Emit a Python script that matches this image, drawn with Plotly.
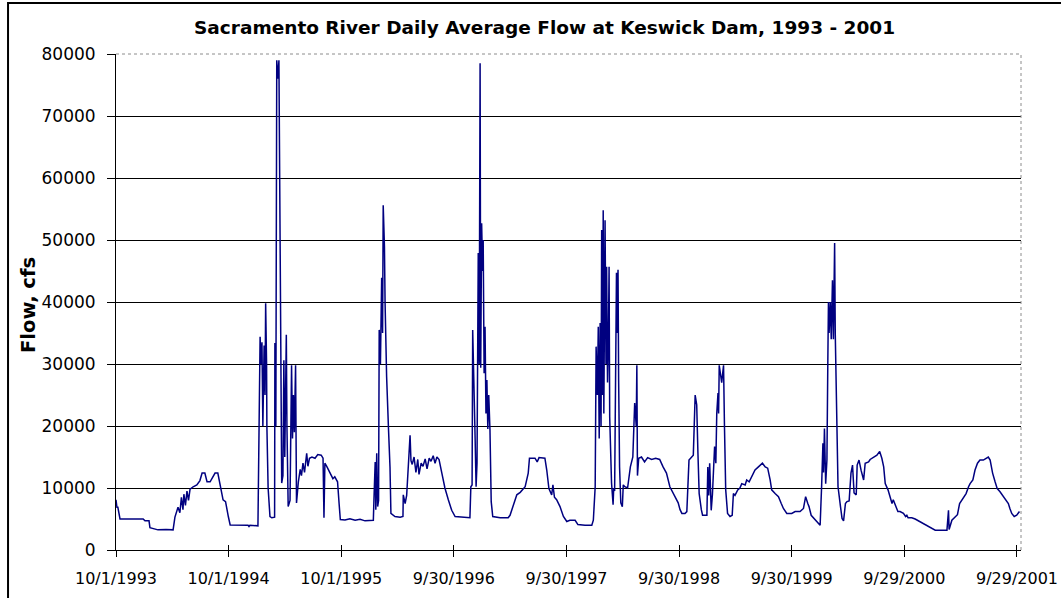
import pandas as pd
import plotly.graph_objects as go

start = pd.Timestamp("1993-10-01")

# flow in cfs, x given as days since 10/1/1993, one pair of lists per water year
wy1994_day = [0, 3, 6, 13, 55, 88, 94, 107, 110, 136, 162, 185, 191, 201, 207, 212, 217, 220, 225, 230,
              235, 240, 250, 262, 272, 279, 288, 295, 305, 314, 321, 330, 334, 340, 347, 355, 360, 364]
wy1994_cfs = [8100, 6900, 6900, 5000, 5000, 5000, 4700, 4700, 3600, 3250, 3300, 3250, 5300, 6900, 6000, 8500,
              6500, 9000, 7200, 9500, 8000, 9800, 10200, 10500, 11200, 12400, 12400, 11000, 11000, 11800,
              12400, 12400, 11500, 9700, 8100, 7800, 6000, 5400]

wy1995_day = [370, 402, 428, 431, 434, 460, 461, 463, 467, 470, 473, 476, 480, 483, 485, 488, 489, 493, 496,
              499, 505, 514, 515, 518, 521, 525, 528, 531, 537, 541, 544, 547, 552, 554, 558, 564, 569, 572,
              575, 578, 582, 585, 591, 597, 601, 606, 611, 618, 622, 627, 635, 645, 654, 665, 671, 674, 677,
              683, 690, 697, 703, 709, 718, 723, 727]
wy1995_cfs = [4050, 4000, 4000, 3800, 4000, 3900, 10500, 10500, 34400, 30000, 33500, 20000, 33000, 25000,
              39800, 30000, 20000, 10000, 8000, 5400, 5200, 5300, 33400, 20000, 79000, 76000, 79000, 50000,
              10800, 12000, 30600, 15000, 34700, 20000, 7000, 8000, 29800, 18000, 25000, 19000, 29800, 7600,
              11000, 13000, 12000, 14000, 12500, 15600, 13500, 14800, 15000, 14800, 15400, 15300, 14800, 5200,
              14000, 13500, 12800, 12000, 11500, 11800, 11000, 7500, 4900]

wy1996_day = [742, 758, 775, 791, 807, 823, 834, 836, 840, 842, 845, 848, 851, 853, 857, 861, 864, 866, 870,
              872, 874, 877, 883, 888, 891, 904, 921, 930, 931, 937, 942, 948, 953, 956, 960, 966, 972, 978,
              982, 989, 995, 1002, 1008, 1015, 1021, 1028, 1034, 1040, 1047, 1056, 1066, 1077, 1088]
wy1996_cfs = [4850, 5050, 4800, 4950, 4700, 4800, 4800, 8100, 14200, 6500, 15600, 7000, 8000, 35500, 30000,
              43900, 35000, 55600, 48900, 40000, 32800, 28000, 19700, 13400, 5900, 5400, 5300, 5400, 8900,
              7500, 8800, 14200, 18500, 14400, 13800, 15000, 12500, 14600, 12200, 14000, 13500, 14700, 13100,
              14800, 14300, 15200, 14000, 15000, 14600, 12400, 10000, 8100, 6400]

wy1997_day = [1099, 1115, 1131, 1147, 1150, 1154, 1156, 1159, 1164, 1167, 1170, 1174, 1177, 1180, 1182, 1185,
              1188, 1190, 1193, 1196, 1199, 1202, 1205, 1208, 1212, 1216, 1221, 1245, 1271, 1277, 1288, 1299,
              1310, 1316, 1326, 1336, 1340, 1358, 1365, 1371, 1390, 1396, 1403, 1412, 1416, 1421, 1428, 1439,
              1450]
wy1997_cfs = [5400, 5300, 5200, 5200, 10200, 10500, 35500, 30200, 17700, 10200, 14000, 47900, 30000, 78500,
              29400, 52700, 45000, 50000, 28500, 36000, 22000, 27400, 19500, 25000, 19400, 7800, 5400, 5200,
              5200, 5600, 7300, 8900, 9300, 9700, 10200, 12400, 14800, 14800, 14200, 14900, 14800, 12900,
              9900, 8900, 10500, 8500, 8100, 7000, 5400]

wy1998_day = [1461, 1471, 1488, 1497, 1520, 1542, 1547, 1553, 1556, 1560, 1563, 1566, 1569, 1572, 1574, 1577,
              1579, 1581, 1585, 1588, 1590, 1593, 1596, 1598, 1600, 1606, 1611, 1613, 1616, 1622, 1624, 1627,
              1629, 1632, 1636, 1641, 1644, 1649, 1658, 1667, 1675, 1681, 1686, 1688, 1690, 1694, 1703, 1713,
              1723, 1736, 1749, 1762, 1773, 1784, 1795, 1811, 1822]
wy1998_cfs = [4600, 4800, 4800, 4100, 4000, 4000, 4800, 10200, 32800, 25000, 36000, 18000, 36600, 20000,
              51600, 25000, 54800, 22000, 53200, 30000, 45700, 27000, 35000, 45700, 21500, 10800, 7300,
              10000, 9500, 44700, 35000, 45200, 27400, 13400, 7600, 7000, 10500, 10200, 10000, 13400, 15000,
              23700, 20000, 29800, 12000, 14800, 15000, 14200, 14900, 14600, 14800, 14600, 13400, 12400,
              10200, 8600, 7600]

wy1999_day = [1828, 1834, 1844, 1850, 1857, 1866, 1871, 1877, 1882, 1886, 1890, 1897, 1901, 1915, 1918, 1921,
              1924, 1929, 1933, 1940, 1944, 1947, 1951, 1953, 1955, 1963, 1969, 1972, 1976, 1982, 1990, 1997,
              2001, 2006, 2015, 2022, 2028, 2039, 2044, 2052, 2060, 2071, 2082, 2095, 2104, 2112, 2120, 2125,
              2136, 2147, 2156, 2163, 2174, 2190]
wy1999_cfs = [6500, 5900, 5900, 6200, 14500, 15000, 15300, 25000, 23400, 15600, 9100, 6500, 5600, 5600,
              13400, 8800, 14000, 6400, 9000, 16700, 14000, 22000, 25300, 22000, 29800, 27000, 29800, 19900,
              9700, 5900, 5400, 5600, 9100, 8800, 9700, 10000, 10700, 10500, 11300, 11000, 11800, 12900,
              13400, 14000, 13400, 13200, 11300, 9700, 9100, 8600, 7500, 6700, 5900, 5900]

wy2000_day = [2201, 2217, 2228, 2235, 2242, 2246, 2253, 2260, 2271, 2282, 2287, 2291, 2293, 2296, 2300, 2304,
              2307, 2309, 2311, 2315, 2318, 2322, 2325, 2329, 2331, 2334, 2340, 2348, 2353, 2358, 2364, 2369,
              2376, 2382, 2387, 2392, 2399, 2402, 2408, 2415, 2423, 2428, 2439, 2444, 2455, 2466, 2475, 2482,
              2488, 2493, 2502, 2509, 2515, 2519, 2525, 2534, 2541, 2552]
wy2000_cfs = [6200, 6200, 6700, 8600, 7500, 7000, 5600, 5200, 4600, 4000, 10500, 17200, 12500, 19600, 10700,
              14500, 30600, 40000, 35000, 40000, 34000, 43500, 34000, 49500, 35000, 24200, 10200, 7000, 5100,
              4700, 7500, 7800, 7900, 12400, 13700, 9200, 8900, 13700, 14500, 12800, 11300, 14000, 14200,
              14600, 15000, 15300, 15900, 14800, 13400, 10700, 9700, 8600, 7500, 8100, 7300, 6200, 6200, 5900]

wy2001_day = [2559, 2563, 2567, 2579, 2590, 2601, 2612, 2622, 2633, 2644, 2655, 2671, 2693, 2698, 2700, 2709,
              2720, 2727, 2734, 2742, 2749, 2755, 2763, 2768, 2777, 2784, 2792, 2800, 2811, 2820, 2827, 2833,
              2841, 2849, 2856, 2865, 2876, 2884, 2892, 2897, 2903, 2911, 2919, 2928]
wy2001_cfs = [5400, 5600, 5200, 5200, 5000, 4700, 4400, 4200, 3800, 3500, 3200, 3200, 3200, 6400, 3300, 4800,
              5400, 5700, 7500, 8100, 8600, 9100, 10200, 10700, 11300, 12900, 14000, 14500, 14500, 14800,
              15000, 14500, 12400, 11000, 9900, 9400, 8600, 8100, 7500, 6700, 5900, 5400, 5600, 6200]

tick_dates = ["1993-10-01", "1994-10-01", "1995-10-01", "1996-09-30", "1997-09-30",
              "1998-09-30", "1999-09-30", "2000-09-29", "2001-09-29"]
tick_text = ["10/1/1993", "10/1/1994", "10/1/1995", "9/30/1996", "9/30/1997",
             "9/30/1998", "9/30/1999", "9/29/2000", "9/29/2001"]
y_ticks = [0, 10000, 20000, 30000, 40000, 50000, 60000, 70000, 80000]

days = (wy1994_day + wy1995_day + wy1996_day + wy1997_day + wy1998_day
        + wy1999_day + wy2000_day + wy2001_day)
flow = (wy1994_cfs + wy1995_cfs + wy1996_cfs + wy1997_cfs + wy1998_cfs
        + wy1999_cfs + wy2000_cfs + wy2001_cfs)
dates = start + pd.to_timedelta(days, unit="D")

font = "DejaVu Sans"
x_range = ["1993-10-01", "2001-10-12"]

fig = go.Figure()
fig.add_trace(go.Scatter(x=dates, y=flow, mode="lines",
                         line=dict(color="#000080", width=1.5), hoverinfo="x+y"))
# empty helper trace so the overlay axis (inside tick marks) gets drawn
fig.add_trace(go.Scatter(x=[dates[0]], y=[flow[0]], xaxis="x2", mode="lines",
                         line=dict(width=0), hoverinfo="skip"))

fig.update_layout(
    width=1061, height=598,
    margin=dict(l=116, r=40, t=54, b=48),
    plot_bgcolor="white", paper_bgcolor="white",
    showlegend=False,
    xaxis=dict(type="date", range=x_range, automargin=False,
               tickvals=tick_dates, ticktext=tick_text,
               ticks="outside", ticklen=6, tickcolor="black", ticklabelstandoff=8,
               showline=True, linecolor="black", linewidth=1,
               showgrid=False, zeroline=False,
               tickfont=dict(family=font, size=16, color="black")),
    xaxis2=dict(type="date", range=x_range, overlaying="x", anchor="y", side="bottom",
                automargin=False, tickvals=tick_dates, ticks="inside", ticklen=5,
                tickcolor="black", showticklabels=False, showline=False,
                showgrid=False, zeroline=False),
    yaxis=dict(range=[0, 80000], tickvals=y_ticks, ticktext=[str(v) for v in y_ticks],
               automargin=False,
               ticks="outside", ticklen=8, tickcolor="black", ticklabelstandoff=8,
               showline=True, linecolor="black", linewidth=1,
               showgrid=True, gridcolor="black", gridwidth=1, zeroline=False,
               tickfont=dict(family=font, size=17, color="black")),
)

# plot area edge: grey dotted top and right, like the excel frame
fig.add_shape(type="line", xref="paper", yref="paper", x0=0, x1=1, y0=1, y1=1,
              line=dict(color="white", width=2))
fig.add_shape(type="line", xref="paper", yref="paper", x0=0, x1=1, y0=1, y1=1,
              line=dict(color="#8c8c8c", width=1, dash="dot"))
fig.add_shape(type="line", xref="paper", yref="paper", x0=1, x1=1, y0=0, y1=1,
              line=dict(color="#8c8c8c", width=1, dash="dot"))
# chart border (right and bottom edges fall outside the picture)
fig.add_shape(type="rect", xref="paper", yref="paper",
              x0=-0.1193, x1=1.0486, y0=-0.115, y1=1.1028,
              line=dict(color="black", width=2))

fig.add_annotation(text="<b>Sacramento River Daily Average Flow at Keswick Dam, 1993 - 2001</b>",
                   xref="paper", yref="paper", x=0.474, y=1.0544, showarrow=False,
                   xanchor="center", yanchor="middle",
                   font=dict(family=font, size=18.5, color="black"))
fig.add_annotation(text="<b>Flow, cfs</b>", textangle=-90,
                   xref="paper", yref="paper", x=-0.0961, y=0.494, showarrow=False,
                   xanchor="center", yanchor="middle",
                   font=dict(family=font, size=19.5, color="black"))

# page body has an 8px default margin; drop it so the figure sits at the corner
fig.write_html("out.html", config={"displayModeBar": False},
               post_script="document.body.style.margin='0';")
